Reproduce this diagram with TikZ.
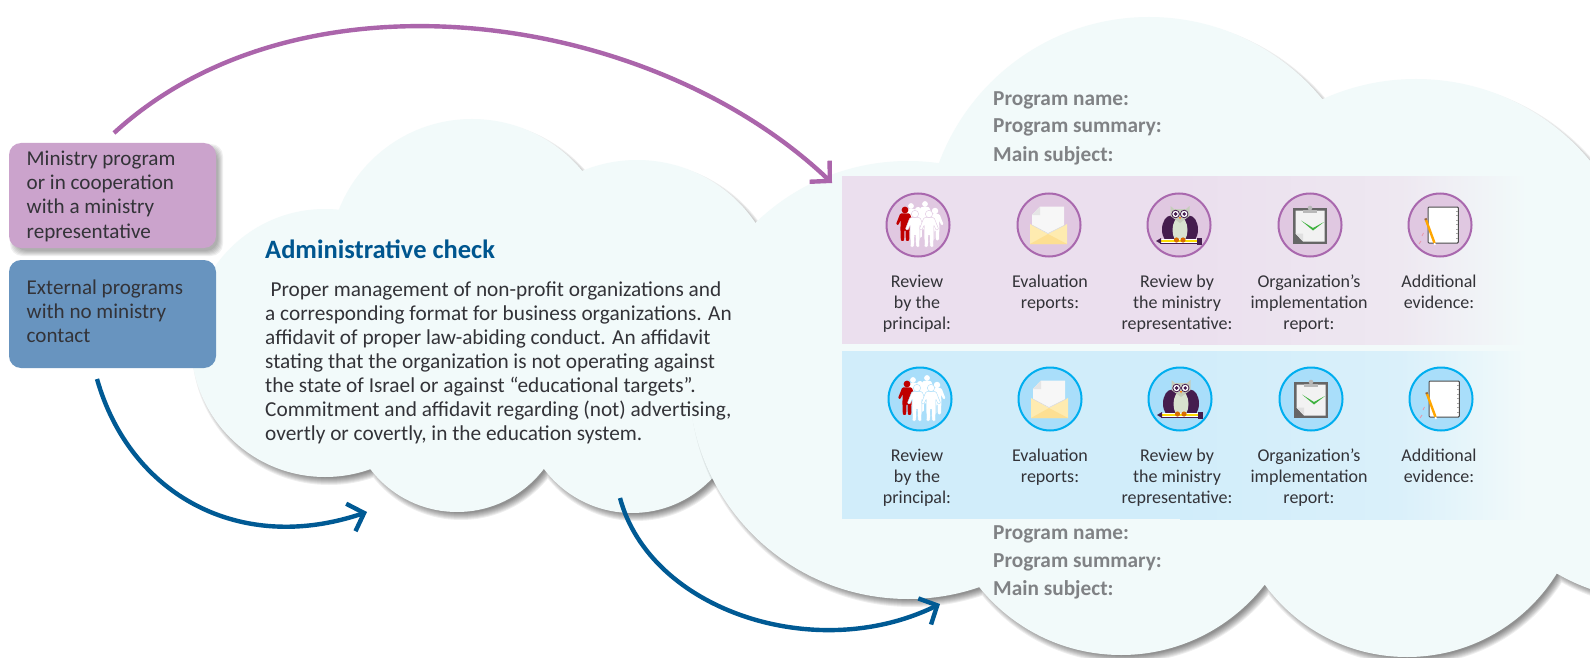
\documentclass[tikz,border=0pt]{standalone}
\usepackage{fontspec}
\setmainfont{Carlito}
\usetikzlibrary{arrows.meta}
\definecolor{cloudc}{HTML}{F2FAFA}
\definecolor{pbox}{HTML}{CBA3CC}
\definecolor{bbox}{HTML}{6894BF}
\definecolor{pband}{HTML}{EBDFEE}
\definecolor{pband2}{HTML}{EEE8F1}
\definecolor{bband}{HTML}{D1EDFA}
\definecolor{bband2}{HTML}{DAF0FA}
\definecolor{pfill}{HTML}{E0C8E1}
\definecolor{pring}{HTML}{A968AE}
\definecolor{bfill}{HTML}{A9DEFA}
\definecolor{bring}{HTML}{00AEEF}
\definecolor{txt}{HTML}{333338}
\definecolor{head}{HTML}{00568F}
\definecolor{greyt}{HTML}{808285}
\definecolor{parrow}{HTML}{AB65AB}
\definecolor{barrow}{HTML}{005A94}
\definecolor{owl}{HTML}{451D4E}
\definecolor{owlbody}{HTML}{D8E2CF}
\definecolor{owlhead}{HTML}{C6CDBB}
\definecolor{envfront}{HTML}{FEEBB0}
\definecolor{envlow}{HTML}{FDDF92}
\tikzset{
  prog/.style={rounded corners=12pt,minimum width=207pt,inner sep=0pt},
  boxtext/.style={anchor=north west,inner sep=0pt,align=left,text=txt,font=\fontsize{21.1}{24.3}\selectfont},
  bodytext/.style={anchor=north west,inner sep=0pt,align=left,text=txt,font=\fontsize{21.3}{23.9}\selectfont},
  headtext/.style={anchor=west,inner sep=0pt,text=head,font=\fontsize{26.5}{30}\selectfont\bfseries},
  metatext/.style={anchor=west,inner sep=0pt,text=greyt,font=\fontsize{21.3}{24}\selectfont\bfseries},
  lab/.style={anchor=north,inner sep=0pt,align=center,text=txt,font=\fontsize{18}{21.2}\selectfont},
  flow/.style={line width=4.4pt,-{Straight Barb[length=14pt,width=29pt]}},
}
\newcommand\cloudL[1]{
 (325,343) circle [radius={134+#1}]
 (472,262) circle [radius={143+#1}]
 (637,303) circle [radius={143+#1}]
 (457,403) circle [radius={109+#1}]
 (632,403) circle [radius={110+#1}]
 (480,340) circle [radius={125+#1}]
}
\newcommand\cloudR[1]{
 (908,380) circle [radius={219+#1}]
 (1149,241) circle [radius={224+#1}]
 (1416,305) circle [radius={226+#1}]
 (1121,473) circle [radius={182+#1}]
 (1407,481) circle [radius={176+#1}]
 (1655,405) circle [radius={195+#1}]
 (1260,350) circle [radius={200+#1}]
 (1500,350) circle [radius={200+#1}]
}
\newcommand\person[4]{%
 \begin{scope}[shift={(#1,#2)},scale=#3]
 \fill[#4] (0,0) circle [radius=3.6];
 \fill[#4,rounded corners=1pt] (-5,3.6)--(5,3.6)--(9.5,15)--(7,16)--(4.6,10.5)--(4.8,20)--(4.4,32.5)--(0.9,32.5)--(0.5,21)--(-0.5,21)--(-0.9,32.5)--(-4.4,32.5)--(-4.8,20)--(-4.6,10.5)--(-7,16)--(-9.5,15)--cycle;
 \end{scope}}
\newcommand\iconPeople[1]{%
 \person{-7}{-19}{.8}{white}\person{7}{-21}{.8}{white}\person{0}{-15}{.85}{white}\person{17}{-14}{.9}{white}
 \person{-13}{-15}{.95}{red!75!black}
 \person{-3}{-11}{1.02}{white,draw=#1,line width=.4pt}\person{11}{-11}{1.02}{white,draw=#1,line width=.4pt}
}
\newcommand\iconEnv{%
 \fill[white!97!black] (-17,-10)--(-9,-18.5)--(15,-18.5)--(15,2)--(-1,10)--(-17,2)--cycle;
 \fill[white!90!black] (-17,-10)--(-9,-10)--(-9,-18.5)--cycle;
 \fill[envfront] (-19,-1)--(-1,9)--(18,-1)--(18,19)--(-19,19)--cycle;
 \fill[envlow] (-19,19)--(-1,9)--(18,19)--cycle;
 \draw[white!85!black,line width=.5pt] (-17,0)--(-1,8.5)--(16,0);
}
\newcommand\iconOwl{%
 \fill[owl] (-8,4.5) ellipse [x radius=9,y radius=14];
 \fill[owl] (10,4.5) ellipse [x radius=9,y radius=14];
 \fill[owlbody] (1,5) ellipse [x radius=7.5,y radius=13];
 \fill[owlhead] (-8.5,-19)--(-5,-16)--(7,-16)--(10.5,-19)--(10.5,-9)--(1,-2)--(-8.5,-9)--cycle;
 \foreach \ex in {-3.4,5.2}{
   \fill[white,draw=owl,line width=.8pt] (\ex,-11) circle [radius=3.8];
   \fill[owl] (\ex,-11) circle [radius=1.9];}
 \fill[orange] (0,-8)--(2,-8)--(1,-5.5)--cycle;
 \fill[owl] (-19,13.5) rectangle (19,18.5);
 \fill[white] (-18,14) rectangle (18,18);
 \fill[yellow!80!orange] (-18,15) rectangle (18,17);
 \fill[owl] (-18,13)--(-18,19)--(-23,16)--cycle;
 \fill[owl] (18,12.5) rectangle (23,19.5);
 \fill[orange!85!black] (-2.5,15) circle [radius=2.6];
 \fill[orange!85!black] (4,15) circle [radius=2.6];
}
\newcommand\iconClip{%
 \fill[black!60] (-17,-17) rectangle (17,19);
 \fill[white!95!black] (-14.5,-14.5)--(14.5,-14.5)--(14.5,16.5)--(-7,16.5)--(-14.5,8.5)--cycle;
 \fill[white!88!black] (-14.5,8.5)--(-7,8.5)--(-7,16.5)--cycle;
 \fill[black!28] (-7,-15.5) rectangle (7,-12.5);
 \fill[black!28] (0,-17) circle [radius=2.3];
 \fill[green!60!black!75] (-9,-4.5)--(3,3)--(14,-3)--(3,5.5)--cycle;
}
\newcommand\iconNote{%
 \fill[white,draw=black!70,line width=1pt,rounded corners=1pt] (-12,-18) rectangle (18.3,18);
 \foreach \dy in {-14.5,-10,-5.5,-1,3.5,8,12.5}{\fill[black!35] (15.8,\dy) rectangle (17.6,{\dy+1});}
 \draw[orange!70!yellow,line width=2.4pt] (-14,-5)--(-5.5,18);
 \draw[brown!80!black,line width=2.4pt] (-14.6,-6.6)--(-14,-5);
 \draw[white,line width=1.6pt] (-5.5,18)--(-5,20);
 \draw[red!25!pfill,line width=.8pt] (-16.5,8)--(-18,11) (-19,16)--(-21,19);
}
\begin{document}
\begin{tikzpicture}[x=1pt,y=-1pt]
\useasboundingbox (0,0) rectangle (1590,658);
\fill[white] (0,0) rectangle (1590,658);
\clip (0,0) rectangle (1590,658);
% left cloud
\foreach \e in {3,2,1,0,-1,-2,-3,-4}{\fill[black,opacity=.065,shift={(4,5)}] \cloudL{\e};}
\fill[cloudc] \cloudL{0};
% boxes
\foreach \e in {4,3,2,1,0,-1}{\fill[black,opacity=.06,rounded corners=12pt] ({9+5-\e},{143+5-\e}) rectangle ({216+3+\e},{248+4+\e});}
\node[prog,fill=pbox,minimum height=105pt] (ministry) at (112.5,195.5) {};
\node[prog,fill=bbox,minimum height=108pt] (external) at (112.5,314) {};
\node[boxtext] (ministrytext) at (26.5,150.5) {Ministry program\\or in cooperation\\with a ministry\\representative};
\node[boxtext] (externaltext) at (26.5,279.5) {External programs\\with no ministry\\contact};
% right cloud
\foreach \e in {3,2,1,0,-1,-2,-3,-4}{\fill[black,opacity=.065,shift={(4,5)}] \cloudR{\e};}
\fill[cloudc] \cloudR{0};
% admin text
\node[headtext] (admin) at (265,249.5) {Administrative check};
\node[bodytext] (body) at (265,282) {\hspace*{0.25em}Proper management of non-profit organizations and\\a corresponding format for business organizations. An\\affidavit of proper law-abiding conduct. An affidavit\\stating that the organization is not operating against\\the state of Israel or against “educational targets”.\\Commitment and affidavit regarding (not) advertising,\\overtly or covertly, in the education system.};
% bands
\fill[pband] (842,176) rectangle (1181,344);
\shade[left color=pband,right color=pband2] (1180,176) rectangle (1401,344);
\shade[left color=pband2,right color=cloudc] (1400,176) rectangle (1527,344);
\fill[bband] (842,351) rectangle (1181,519);
\shade[left color=bband,right color=bband2] (1180,351) rectangle (1401,519);
\shade[left color=bband2,right color=cloudc] (1400,351) rectangle (1527,519);
% meta text
\node[metatext] (m1) at (993,100.5) {Program name:};
\node[metatext] (m2) at (993,127.5) {Program summary:};
\node[metatext] (m3) at (993,155.5) {Main subject:};
\node[metatext] (m4) at (993,534.5) {Program name:};
\node[metatext] (m5) at (993,562) {Program summary:};
\node[metatext] (m6) at (993,590) {Main subject:};
% icons purple
\foreach \cx in {918,1049,1179,1310,1440}{\fill[pfill,draw=pring,line width=2pt] (\cx,225) circle [radius=31.5];}
\begin{scope}[shift={(918,225)}]\iconPeople{pfill}\end{scope}
\begin{scope}[shift={(1049,225)}]\iconEnv\end{scope}
\begin{scope}[shift={(1179,225)}]\iconOwl\end{scope}
\begin{scope}[shift={(1310,225)}]\iconClip\end{scope}
\begin{scope}[shift={(1440,225)}]\iconNote\end{scope}
% icons blue
\foreach \cx in {920,1050,1180,1311,1441}{\fill[bfill,draw=bring,line width=2pt] (\cx,399) circle [radius=31.5];}
\begin{scope}[shift={(920,399)}]\iconPeople{bfill}\end{scope}
\begin{scope}[shift={(1050,399)}]\iconEnv\end{scope}
\begin{scope}[shift={(1180,399)}]\iconOwl\end{scope}
\begin{scope}[shift={(1311,399)}]\iconClip\end{scope}
\begin{scope}[shift={(1441,399)}]\iconNote\end{scope}
% labels
\node[lab] (a1) at (917,274.5) {Review\\by the\\principal:};
\node[lab] (a2) at (1050,274.5) {Evaluation\\reports:};
\node[lab] (a3) at (1177,274.5) {Review by\\the ministry\\representative:};
\node[lab] (a4) at (1309,274.5) {Organization’s\\implementation\\report:};
\node[lab] (a5) at (1439,274.5) {Additional\\evidence:};
\node[lab] (b1) at (917,448.5) {Review\\by the\\principal:};
\node[lab] (b2) at (1050,448.5) {Evaluation\\reports:};
\node[lab] (b3) at (1177,448.5) {Review by\\the ministry\\representative:};
\node[lab] (b4) at (1309,448.5) {Organization’s\\implementation\\report:};
\node[lab] (b5) at (1439,448.5) {Additional\\evidence:};
% connectors
\coordinate (pstart) at (114,133);
\coordinate (ptip) at (832,183);
\coordinate (bstart) at (97,379);
\coordinate (btip) at (367,512);
\coordinate (cstart) at (620,498);
\coordinate (ctip) at (940,604);
\draw[flow,parrow] (pstart) .. controls (300,-38) and (650,10) .. (ptip);
\draw[flow,barrow] (bstart) .. controls (130,495) and (240,555) .. (btip);
\draw[flow,barrow] (cstart) .. controls (650,610) and (815,665) .. (ctip);
\end{tikzpicture}
\end{document}
